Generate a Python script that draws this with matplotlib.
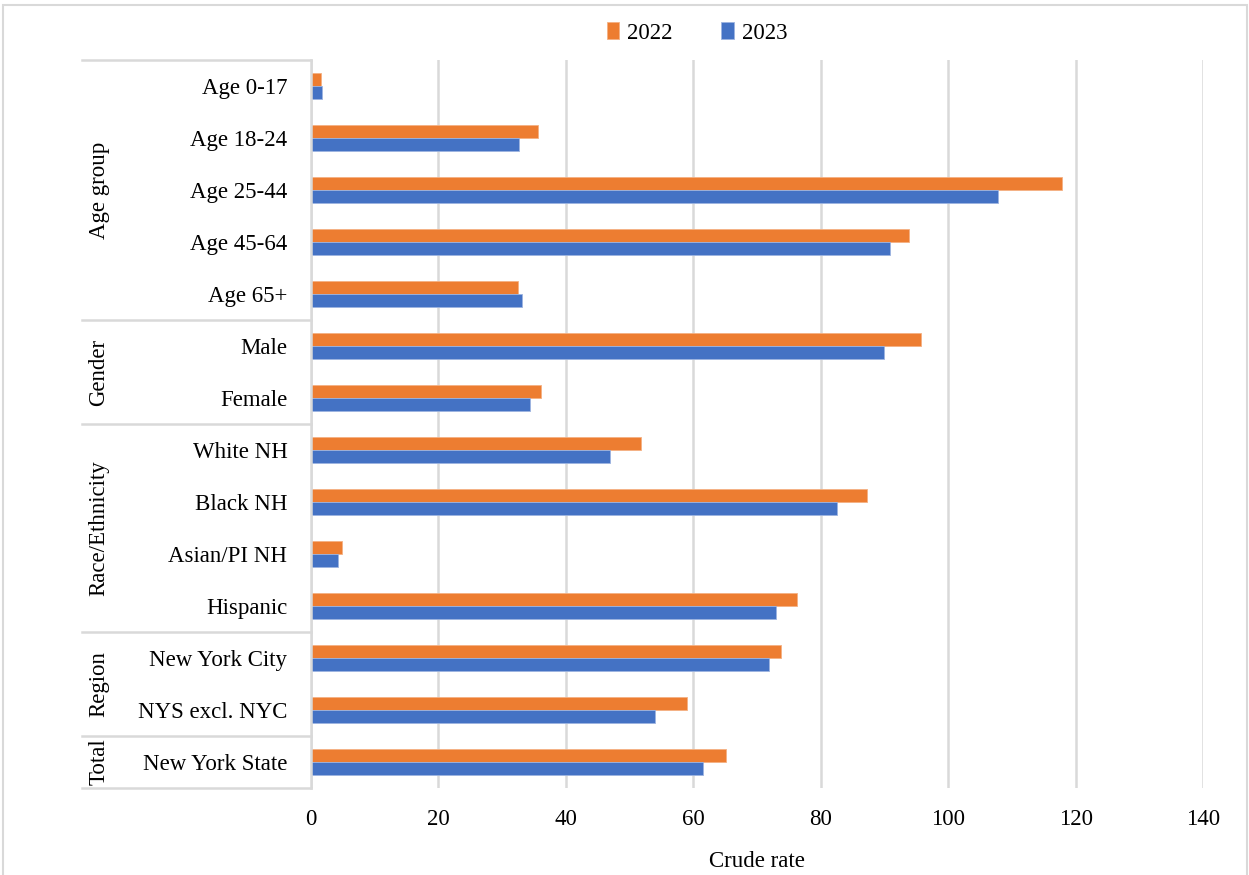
import matplotlib
matplotlib.use("Agg")
import matplotlib.pyplot as plt
from matplotlib.patches import Rectangle
from matplotlib.lines import Line2D
import numpy as np

plt.rcParams['font.family'] = ['Liberation Serif', 'DejaVu Serif']

categories = ["Age 0-17", "Age 18-24", "Age 25-44", "Age 45-64", "Age 65+",
              "Male", "Female",
              "White NH", "Black NH", "Asian/PI NH", "Hispanic",
              "New York City", "NYS excl. NYC",
              "New York State"]
groups = ["Age group", "Gender", "Race/Ethnicity", "Region", "Total"]
group_sizes = [5, 2, 4, 2, 1]

rate_2022 = [1.6, 35.7, 117.9, 93.9, 32.5, 95.7, 36.1, 51.8, 87.2, 4.8, 76.2, 73.8, 59.0, 65.2]
rate_2023 = [1.8, 32.7, 107.9, 90.9, 33.1, 90.0, 34.3, 47.0, 82.5, 4.3, 73.0, 71.9, 54.0, 61.6]
x_ticks = [0, 20, 40, 60, 80, 100, 120, 140]

ORANGE = "#ED7D31"
BLUE = "#4472C4"
GRID = "#D9D9D9"
TEXT = "#000000"
FS = 16.5

W, H = 1249, 875
fig = plt.figure(figsize=(W / 100, H / 100), dpi=100)

# outer chart frame (its lower edge runs past the bottom of the canvas)
fig.patches.append(Rectangle((3 / W, -10 / H), (W - 5) / W, (H + 5) / H,
                             transform=fig.transFigure, fill=False,
                             edgecolor=GRID, linewidth=1.5))

left, right, top, bottom = 311, 1203, 60, 788
ax = fig.add_axes([left / W, 1 - bottom / H, (right - left) / W, (bottom - top) / H])

y = np.arange(len(categories))
bh = 0.25
ax.barh(y - bh / 2, rate_2022, height=bh, color=ORANGE, edgecolor="#F4B183",
        linewidth=0.6, label="2022", zorder=3)
ax.barh(y + bh / 2, rate_2023, height=bh, color=BLUE, edgecolor="#9DB4E0",
        linewidth=0.6, label="2023", zorder=3)

ax.set_xlim(0, 140)
ax.set_ylim(len(categories) - 0.5, -0.5)
ax.set_xticks(x_ticks)
ax.set_xticklabels([str(t) for t in x_ticks], fontsize=FS, color=TEXT)
ax.set_yticks(y)
ax.set_yticklabels(categories, fontsize=FS, color=TEXT)
ax.tick_params(axis='x', length=0, pad=15)
ax.tick_params(axis='y', length=0, pad=17)
ax.grid(axis='x', color=GRID, linewidth=1.8, zorder=0)
ax.set_axisbelow(True)
for s in ["top", "right", "bottom"]:
    ax.spines[s].set_visible(False)
ax.spines["left"].set_color(GRID)
ax.spines["left"].set_linewidth(1.8)
ax.spines["left"].set_zorder(4)

ax.set_xlabel("Crude rate", fontsize=FS, color=TEXT, labelpad=15)

# multi-level category axis: group separators and rotated group names
sep_x0 = (82 - left) / (right - left)
label_x = (99 - left) / (right - left)
trans = ax.get_yaxis_transform()
bounds = np.concatenate([[0], np.cumsum(group_sizes)]) - 0.5
for b in bounds:
    ax.add_line(Line2D([sep_x0, 0], [b, b], transform=trans, color=GRID,
                       linewidth=1.8, clip_on=False))
for g, lo, hi in zip(groups, bounds[:-1], bounds[1:]):
    ax.text(label_x, (lo + hi) / 2, g, transform=trans, rotation=90,
            ha="center", va="center", fontsize=FS, color=TEXT)

fig.legend(loc="center", bbox_to_anchor=(697 / W, 1 - 33 / H), ncol=2,
           frameon=False, fontsize=FS, handlelength=0.55, handleheight=0.7,
           handletextpad=0.35, columnspacing=2.1)

fig.savefig("out.png", dpi=100, facecolor="white")
